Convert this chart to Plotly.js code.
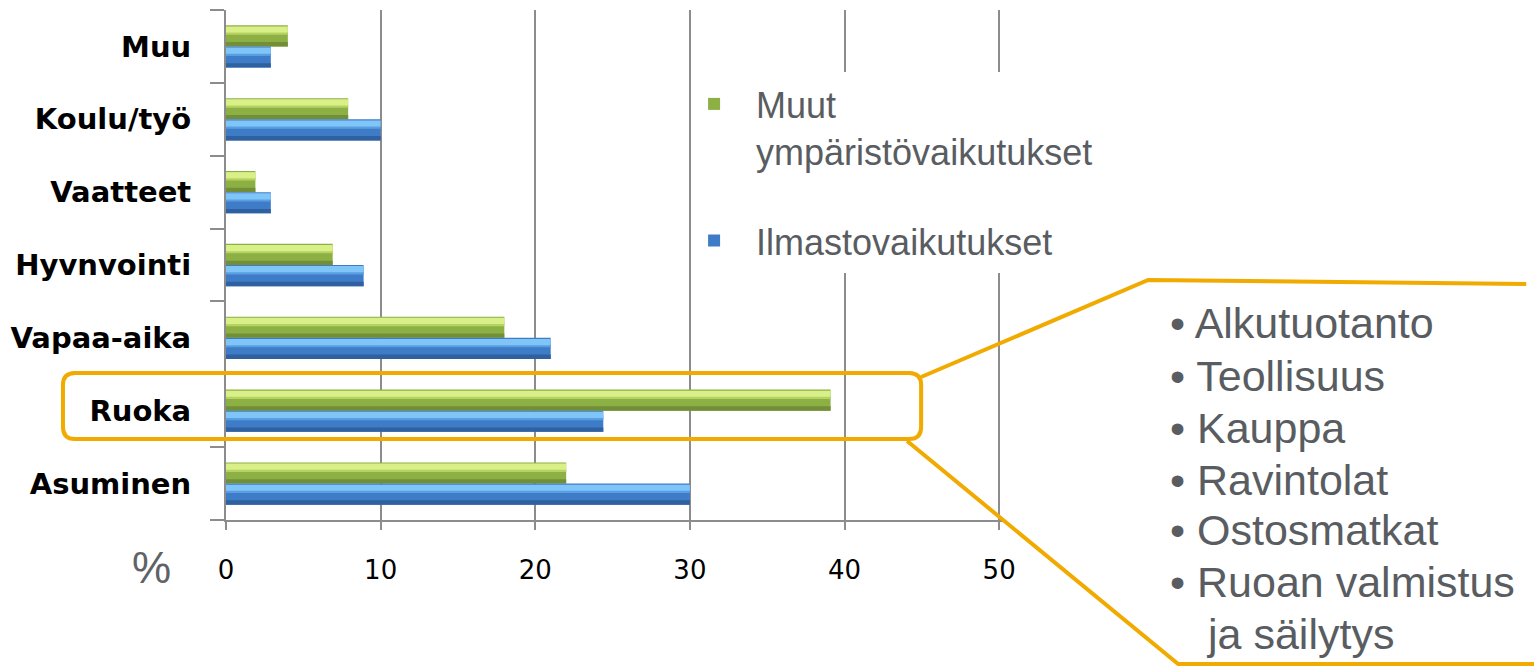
<!DOCTYPE html>
<html>
<head>
<meta charset="utf-8">
<script src="https://cdn.plot.ly/plotly-3.0.1.min.js"></script>
<style>html,body{margin:0;padding:0;background:#fff;}#chart{width:1534px;height:668px;}</style>
</head>
<body>
<div id="chart"></div>
<script>
// ---- data (bottom to top, as drawn) ----
const categories = ['Asuminen', 'Ruoka', 'Vapaa-aika', 'Hyvnvointi', 'Vaatteet', 'Koulu/työ', 'Muu'];
const muutVaikutukset = [22, 39.1, 18, 6.9, 1.9, 7.9, 4];
const ilmastoVaikutukset = [30, 24.4, 21, 8.9, 2.9, 10, 2.9];
const seriesNames = ['Muut<br>ympäristövaikutukset', 'Ilmastovaikutukset'];
const xTicks = [0, 10, 20, 30, 40, 50];
const bullets = ['• Alkutuotanto', '• Teollisuus', '• Kauppa', '• Ravintolat', '• Ostosmatkat', '• Ruoan valmistus', 'ja säilytys'];

// ---- layout helpers (pixel -> paper / data) ----
const XMAX = 50.25;
const PL = 226, PT = 10, PB = 520;
const PX50 = 999;
const PR = PL + (PX50 - PL) * XMAX / 50;
const px = x => (x - PL) / (PR - PL);
const py = y => (PB - y) / (PB - PT);
const dx = x => px(x) * XMAX;
const dy = y => py(y) * categories.length - 0.5;

function barLayer(xs, color, offset, width, name, group, showLegend) {
  return {
    type: 'bar', orientation: 'h', y: categories, x: xs,
    offset: offset, width: width,
    marker: {color: color, line: {width: 0}},
    name: name, legendgroup: group, showlegend: showLegend,
    hoverinfo: showLegend ? 'x+y+name' : 'skip'
  };
}

const BW = 0.29;
const traces = [
  barLayer(muutVaikutukset, '#8db044', 0, BW, seriesNames[0], 'g', true),
  barLayer(muutVaikutukset, '#728f37', 0, 0.06, '', 'g', false),
  barLayer(muutVaikutukset, '#b5d262', 0.16, 0.05, '', 'g', false),
  barLayer(muutVaikutukset, '#d9f088', 0.19, 0.085, '', 'g', false),
  barLayer(ilmastoVaikutukset, '#3f7cc8', -BW, BW, seriesNames[1], 'b', true),
  barLayer(ilmastoVaikutukset, '#2f609f', -BW, 0.06, '', 'b', false),
  barLayer(ilmastoVaikutukset, '#5a9ee2', -BW + 0.16, 0.05, '', 'b', false),
  barLayer(ilmastoVaikutukset, '#80c5f8', -BW + 0.19, 0.085, '', 'b', false)
];

function roundedRect(x0, y0, x1, y1, r) {
  const P = (x, y) => px(x) + ',' + py(y);
  return 'M' + P(x0 + r, y0) + ' L' + P(x1 - r, y0) + ' Q' + P(x1, y0) + ' ' + P(x1, y0 + r) +
    ' L' + P(x1, y1 - r) + ' Q' + P(x1, y1) + ' ' + P(x1 - r, y1) +
    ' L' + P(x0 + r, y1) + ' Q' + P(x0, y1) + ' ' + P(x0, y1 - r) +
    ' L' + P(x0, y0 + r) + ' Q' + P(x0, y0) + ' ' + P(x0 + r, y0) + ' Z';
}
function polyline(pts) {
  return pts.map((p, i) => (i ? 'L' : 'M') + px(p[0]) + ',' + py(p[1])).join(' ');
}

const ORANGE = '#f0aa00';
const shapes = [
  // white legend backdrop (hides gridlines behind the legend, like the original)
  {type: 'rect', xref: 'x', yref: 'y', layer: 'above',
   x0: dx(697), x1: dx(1105), y0: dy(273), y1: dy(72),
   fillcolor: '#ffffff', line: {width: 0}},
  {type: 'path', xref: 'paper', yref: 'paper', path: roundedRect(63, 373, 921, 439, 12),
   line: {color: ORANGE, width: 4}},
  {type: 'path', xref: 'paper', yref: 'paper', path: polyline([[921, 377], [1148, 280], [1526, 284]]),
   line: {color: ORANGE, width: 4}},
  {type: 'path', xref: 'paper', yref: 'paper', path: polyline([[907, 441], [1178, 664], [1540, 664]]),
   line: {color: ORANGE, width: 4}}
];

const bulletY = [323, 376, 428, 480, 530, 582, 634];
const annotations = bullets.map((t, i) => ({
  xref: 'paper', yref: 'paper', x: px(i === bullets.length - 1 ? 1204 : 1168), y: py(bulletY[i]),
  xanchor: 'left', yanchor: 'middle', showarrow: false, text: t,
  font: {family: 'Liberation Sans, Arial, sans-serif', size: 43, color: '#595d61'}
}));
annotations.push({
  xref: 'paper', yref: 'paper', x: px(152), y: py(567), xanchor: 'center', yanchor: 'middle',
  showarrow: false, text: '%',
  font: {family: 'Liberation Sans, Arial, sans-serif', size: 44, color: '#5f6367'}
});

const GRID = '#8c8c8c';
const layout = {
  width: 1534, height: 668,
  margin: {l: PL, r: 1534 - PR, t: PT, b: 668 - PB, pad: 0},
  paper_bgcolor: '#ffffff', plot_bgcolor: '#ffffff',
  barmode: 'overlay',
  showlegend: true,
  legend: {
    x: px(672), y: py(74), xanchor: 'left', yanchor: 'top',
    bgcolor: 'rgba(255,255,255,0)', borderwidth: 0, traceorder: 'grouped',
    tracegroupgap: 40, valign: 'top', itemwidth: 74,
    font: {family: 'Liberation Sans, Arial, sans-serif', size: 36, color: '#595d61'}
  },
  xaxis: {
    range: [0, XMAX], tickvals: xTicks, ticktext: xTicks.map(String),
    showgrid: true, gridcolor: GRID, gridwidth: 2, zeroline: false,
    showline: true, linecolor: GRID, linewidth: 2,
    ticks: 'outside', ticklen: 8, tickwidth: 2, tickcolor: GRID,
    ticklabelstandoff: 18,
    tickfont: {family: 'DejaVu Sans, Verdana, sans-serif', size: 26, color: '#000000'},
    fixedrange: true
  },
  yaxis: {
    type: 'category', categoryorder: 'array', categoryarray: categories,
    range: [-0.5, categories.length - 0.5],
    showgrid: false, zeroline: false,
    showline: true, linecolor: GRID, linewidth: 2,
    ticks: 'outside', tickson: 'boundaries', ticklen: 14, tickwidth: 2, tickcolor: GRID,
    ticklabelstandoff: 27,
    tickfont: {family: 'DejaVu Sans, Verdana, sans-serif', size: 29, color: '#000000', weight: 'bold'},
    fixedrange: true
  },
  shapes: shapes,
  annotations: annotations
};

Plotly.newPlot('chart', traces, layout, {displayModeBar: false, staticPlot: true});
</script>
</body>
</html>
